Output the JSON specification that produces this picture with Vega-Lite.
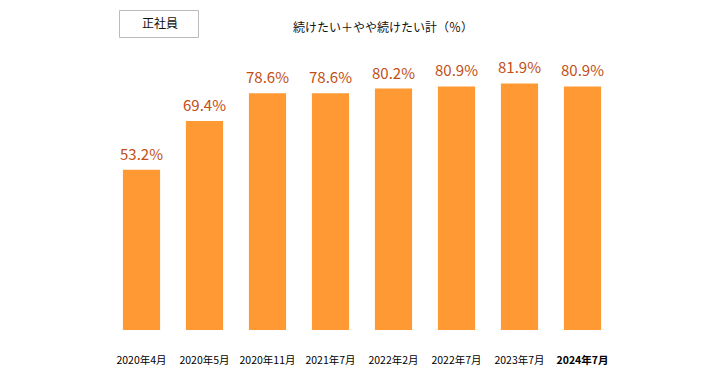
{
  "$schema": "https://vega.github.io/schema/vega-lite/v6.json",
  "width": 504,
  "height": 271,
  "autosize": {"type": "none"},
  "padding": {"left": 110, "top": 59, "right": 106, "bottom": 50},
  "background": "white",
  "config": {"view": {"stroke": null}, "font": "Noto Sans CJK JP"},
  "title": {
    "text": "続けたい＋やや続けたい計（％）",
    "anchor": "start",
    "dx": 183,
    "offset": -51,
    "fontSize": 12,
    "fontWeight": "normal",
    "font": "Noto Sans CJK JP",
    "color": "#111111"
  },
  "data": {
    "values": [
      {"period": "2020年4月", "value": 0.532, "group": "正社員"},
      {"period": "2020年5月", "value": 0.694, "group": "正社員"},
      {"period": "2020年11月", "value": 0.786, "group": "正社員"},
      {"period": "2021年7月", "value": 0.786, "group": "正社員"},
      {"period": "2022年2月", "value": 0.802, "group": "正社員"},
      {"period": "2022年7月", "value": 0.809, "group": "正社員"},
      {"period": "2023年7月", "value": 0.819, "group": "正社員"},
      {"period": "2024年7月", "value": 0.809, "group": "正社員"}
    ]
  },
  "encoding": {
    "x": {
      "field": "period",
      "type": "nominal",
      "sort": null,
      "scale": {"paddingInner": 0.41, "paddingOuter": 0.205},
      "axis": {
        "title": null,
        "domain": false,
        "ticks": false,
        "labelAngle": 0,
        "labelPadding": 25,
        "labelFontSize": 10.5,
        "labelColor": "#000000",
        "labelFont": "Noto Sans CJK JP",
        "labelFontWeight": {"condition": {"test": "datum.value == '2024年7月'", "value": "bold"}, "value": "normal"}
      }
    },
    "y": {
      "field": "value",
      "type": "quantitative",
      "scale": {"domain": [0, 0.9], "nice": false},
      "axis": null
    }
  },
  "layer": [
    {
      "mark": {"type": "bar", "color": "#FF9933"}
    },
    {
      "mark": {"type": "rule", "strokeWidth": 1},
      "encoding": {
        "y2": {"field": "value"},
        "stroke": {
          "field": "group",
          "type": "nominal",
          "scale": {"range": ["#bbbbbb"]},
          "legend": {
            "title": null,
            "orient": "none",
            "legendX": 9,
            "legendY": -75,
            "padding": 0,
            "symbolType": "M-1,-0.342H1V0.342H-1Z",
            "symbolSize": 6241,
            "symbolFillColor": "white",
            "symbolStrokeWidth": 1,
            "labelOffset": -57,
            "labelFontSize": 12,
            "labelColor": "#111111",
            "labelFont": "Noto Sans CJK JP"
          }
        }
      }
    },
    {
      "mark": {"type": "text", "baseline": "alphabetic", "dy": -10, "fontSize": 15, "color": "#C24E15", "font": "Noto Sans CJK JP"},
      "encoding": {
        "text": {"field": "value", "type": "quantitative", "format": ".1%"}
      }
    }
  ]
}
